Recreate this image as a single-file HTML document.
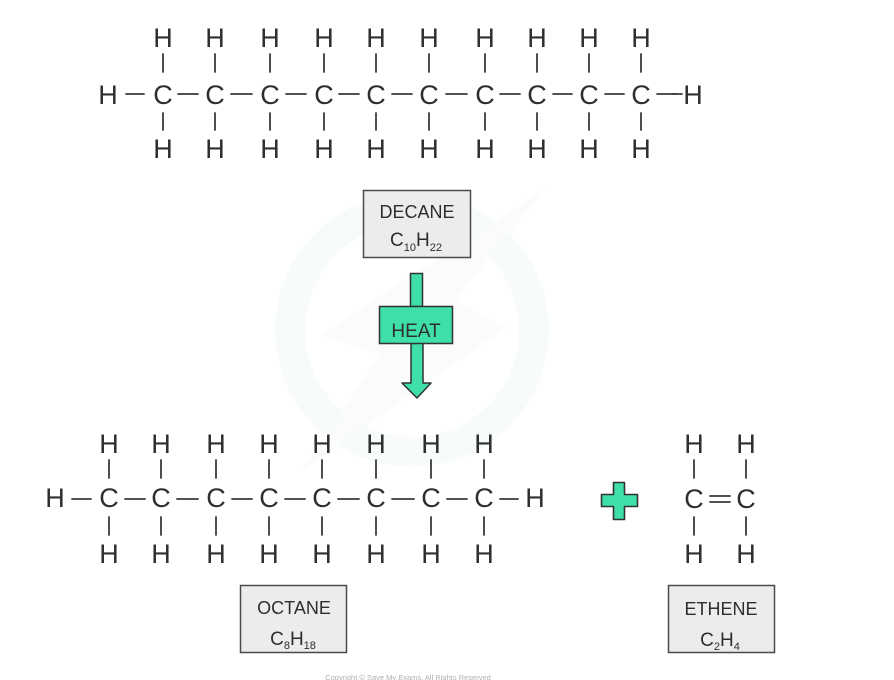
<!DOCTYPE html>
<html>
<head>
<meta charset="utf-8">
<style>
  html,body{margin:0;padding:0;background:#fff;}
  svg{display:block;}
  .a{font-family:"Liberation Sans",sans-serif;font-size:27px;fill:#2e2e2e;text-anchor:middle;}
  .b{font-family:"Liberation Sans",sans-serif;fill:#2e2e2e;text-anchor:middle;}
  line{stroke:#3a3a3a;stroke-width:1.8;stroke-linecap:round;}
</style>
</head>
<body>
<svg width="894" height="680" viewBox="0 0 894 680" xmlns="http://www.w3.org/2000/svg">
  <!-- watermark -->
  <circle cx="412" cy="330" r="122" fill="none" stroke="#f8fbfc" stroke-width="30"/>
  <polygon points="322,335 545,188 455,300 505,328 300,472 380,355" fill="#f9fbfc"/>

  <!-- DECANE molecule -->
  <g>
    <text class="a" x="108" y="104">H</text>
    <text class="a" x="693" y="104">H</text>
    <line x1="126" y1="94" x2="144" y2="94"/>
    <line x1="673" y1="94" x2="682" y2="94"/>
  </g>
  <g id="dec">
    <text class="a" x="163" y="104">C</text>
    <text class="a" x="215" y="104">C</text>
    <text class="a" x="270" y="104">C</text>
    <text class="a" x="324" y="104">C</text>
    <text class="a" x="376" y="104">C</text>
    <text class="a" x="429" y="104">C</text>
    <text class="a" x="485" y="104">C</text>
    <text class="a" x="537" y="104">C</text>
    <text class="a" x="589" y="104">C</text>
    <text class="a" x="641" y="104">C</text>
    <text class="a" x="163" y="47">H</text>
    <text class="a" x="215" y="47">H</text>
    <text class="a" x="270" y="47">H</text>
    <text class="a" x="324" y="47">H</text>
    <text class="a" x="376" y="47">H</text>
    <text class="a" x="429" y="47">H</text>
    <text class="a" x="485" y="47">H</text>
    <text class="a" x="537" y="47">H</text>
    <text class="a" x="589" y="47">H</text>
    <text class="a" x="641" y="47">H</text>
    <text class="a" x="163" y="158">H</text>
    <text class="a" x="215" y="158">H</text>
    <text class="a" x="270" y="158">H</text>
    <text class="a" x="324" y="158">H</text>
    <text class="a" x="376" y="158">H</text>
    <text class="a" x="429" y="158">H</text>
    <text class="a" x="485" y="158">H</text>
    <text class="a" x="537" y="158">H</text>
    <text class="a" x="589" y="158">H</text>
    <text class="a" x="641" y="158">H</text>
    <line x1="163" y1="54" x2="163" y2="72"/><line x1="163" y1="113" x2="163" y2="130"/>
    <line x1="215" y1="54" x2="215" y2="72"/><line x1="215" y1="113" x2="215" y2="130"/>
    <line x1="270" y1="54" x2="270" y2="72"/><line x1="270" y1="113" x2="270" y2="130"/>
    <line x1="324" y1="54" x2="324" y2="72"/><line x1="324" y1="113" x2="324" y2="130"/>
    <line x1="376" y1="54" x2="376" y2="72"/><line x1="376" y1="113" x2="376" y2="130"/>
    <line x1="429" y1="54" x2="429" y2="72"/><line x1="429" y1="113" x2="429" y2="130"/>
    <line x1="485" y1="54" x2="485" y2="72"/><line x1="485" y1="113" x2="485" y2="130"/>
    <line x1="537" y1="54" x2="537" y2="72"/><line x1="537" y1="113" x2="537" y2="130"/>
    <line x1="589" y1="54" x2="589" y2="72"/><line x1="589" y1="113" x2="589" y2="130"/>
    <line x1="641" y1="54" x2="641" y2="72"/><line x1="641" y1="113" x2="641" y2="130"/>
    <line x1="178" y1="94" x2="198" y2="94"/>
    <line x1="231" y1="94" x2="252" y2="94"/>
    <line x1="286" y1="94" x2="306" y2="94"/>
    <line x1="339" y1="94" x2="359" y2="94"/>
    <line x1="392" y1="94" x2="412" y2="94"/>
    <line x1="446" y1="94" x2="467" y2="94"/>
    <line x1="500" y1="94" x2="520" y2="94"/>
    <line x1="553" y1="94" x2="572" y2="94"/>
    <line x1="605" y1="94" x2="624" y2="94"/>
    <line x1="657" y1="94" x2="676" y2="94"/>
  </g>

  <!-- DECANE box -->
  <rect x="363.5" y="190.5" width="107" height="67" fill="#ececec" stroke="#4a4a4a" stroke-width="1.5"/>
  <text class="b" x="417" y="218" font-size="18">DECANE</text>
  <text class="b" x="416" y="246" font-size="19">C<tspan font-size="11" dy="5">10</tspan><tspan dy="-5">H</tspan><tspan font-size="11" dy="5">22</tspan></text>

  <!-- HEAT arrow -->
  <rect x="410.5" y="273.5" width="12" height="33" fill="#3ee0a8" stroke="#333" stroke-width="1.5"/>
  <polygon points="411,343 423,343 423,383 431,383 417,398 402,383 411,383" fill="#3ee0a8" stroke="#333" stroke-width="1.5" stroke-linejoin="round"/>
  <rect x="379.5" y="306.5" width="73" height="37" fill="#3ee0a8" stroke="#333" stroke-width="1.5"/>
  <text class="b" x="416" y="337" font-size="19">HEAT</text>

  <!-- OCTANE molecule -->
  <g>
    <text class="a" x="55" y="507">H</text>
    <text class="a" x="535" y="507">H</text>
    <line x1="72" y1="499" x2="91" y2="499"/>
    <line x1="500" y1="499" x2="518" y2="499"/>

    <text class="a" x="109" y="507">C</text>
    <text class="a" x="161" y="507">C</text>
    <text class="a" x="216" y="507">C</text>
    <text class="a" x="269" y="507">C</text>
    <text class="a" x="322" y="507">C</text>
    <text class="a" x="376" y="507">C</text>
    <text class="a" x="431" y="507">C</text>
    <text class="a" x="484" y="507">C</text>

    <text class="a" x="109" y="453">H</text>
    <text class="a" x="161" y="453">H</text>
    <text class="a" x="216" y="453">H</text>
    <text class="a" x="269" y="453">H</text>
    <text class="a" x="322" y="453">H</text>
    <text class="a" x="376" y="453">H</text>
    <text class="a" x="431" y="453">H</text>
    <text class="a" x="484" y="453">H</text>

    <text class="a" x="109" y="563">H</text>
    <text class="a" x="161" y="563">H</text>
    <text class="a" x="216" y="563">H</text>
    <text class="a" x="269" y="563">H</text>
    <text class="a" x="322" y="563">H</text>
    <text class="a" x="376" y="563">H</text>
    <text class="a" x="431" y="563">H</text>
    <text class="a" x="484" y="563">H</text>

    <line x1="109" y1="460" x2="109" y2="478"/><line x1="109" y1="517" x2="109" y2="535"/>
    <line x1="161" y1="460" x2="161" y2="478"/><line x1="161" y1="517" x2="161" y2="535"/>
    <line x1="216" y1="460" x2="216" y2="478"/><line x1="216" y1="517" x2="216" y2="535"/>
    <line x1="269" y1="460" x2="269" y2="478"/><line x1="269" y1="517" x2="269" y2="535"/>
    <line x1="322" y1="460" x2="322" y2="478"/><line x1="322" y1="517" x2="322" y2="535"/>
    <line x1="376" y1="460" x2="376" y2="478"/><line x1="376" y1="517" x2="376" y2="535"/>
    <line x1="431" y1="460" x2="431" y2="478"/><line x1="431" y1="517" x2="431" y2="535"/>
    <line x1="484" y1="460" x2="484" y2="478"/><line x1="484" y1="517" x2="484" y2="535"/>

    <line x1="125" y1="499" x2="145" y2="499"/>
    <line x1="177" y1="499" x2="198" y2="499"/>
    <line x1="232" y1="499" x2="252" y2="499"/>
    <line x1="285" y1="499" x2="305" y2="499"/>
    <line x1="338" y1="499" x2="359" y2="499"/>
    <line x1="392" y1="499" x2="414" y2="499"/>
    <line x1="447" y1="499" x2="467" y2="499"/>
  </g>

  <!-- plus -->
  <polygon points="613.5,482.5 624.5,482.5 624.5,494.5 637.5,494.5 637.5,506.5 624.5,506.5 624.5,519.5 613.5,519.5 613.5,506.5 601.5,506.5 601.5,494.5 613.5,494.5" fill="#3ee0a8" stroke="#333" stroke-width="1.6" stroke-linejoin="round"/>

  <!-- ETHENE molecule -->
  <g>
    <text class="a" x="694" y="453">H</text>
    <text class="a" x="746" y="453">H</text>
    <text class="a" x="694" y="508">C</text>
    <text class="a" x="746" y="508">C</text>
    <text class="a" x="694" y="563">H</text>
    <text class="a" x="746" y="563">H</text>
    <line x1="694" y1="460" x2="694" y2="478"/><line x1="694" y1="517" x2="694" y2="535"/>
    <line x1="746" y1="460" x2="746" y2="478"/><line x1="746" y1="517" x2="746" y2="535"/>
    <line x1="710" y1="496" x2="730" y2="496"/>
    <line x1="710" y1="502" x2="730" y2="502"/>
  </g>

  <!-- OCTANE box -->
  <rect x="240.5" y="585.5" width="106" height="67" fill="#ececec" stroke="#4a4a4a" stroke-width="1.5"/>
  <text class="b" x="294" y="614" font-size="18">OCTANE</text>
  <text class="b" x="293" y="645" font-size="19">C<tspan font-size="11" dy="4">8</tspan><tspan dy="-4">H</tspan><tspan font-size="11" dy="4">18</tspan></text>

  <!-- ETHENE box -->
  <rect x="668.5" y="585.5" width="106" height="67" fill="#ececec" stroke="#4a4a4a" stroke-width="1.5"/>
  <text class="b" x="721" y="615" font-size="18">ETHENE</text>
  <text class="b" x="720" y="646" font-size="19">C<tspan font-size="11" dy="4">2</tspan><tspan dy="-4">H</tspan><tspan font-size="11" dy="4">4</tspan></text>

  <!-- copyright -->
  <text x="408" y="680" font-family="Liberation Sans, sans-serif" font-size="7.5" fill="#b0b0b0" text-anchor="middle">Copyright © Save My Exams. All Rights Reserved</text>
</svg>
</body>
</html>
